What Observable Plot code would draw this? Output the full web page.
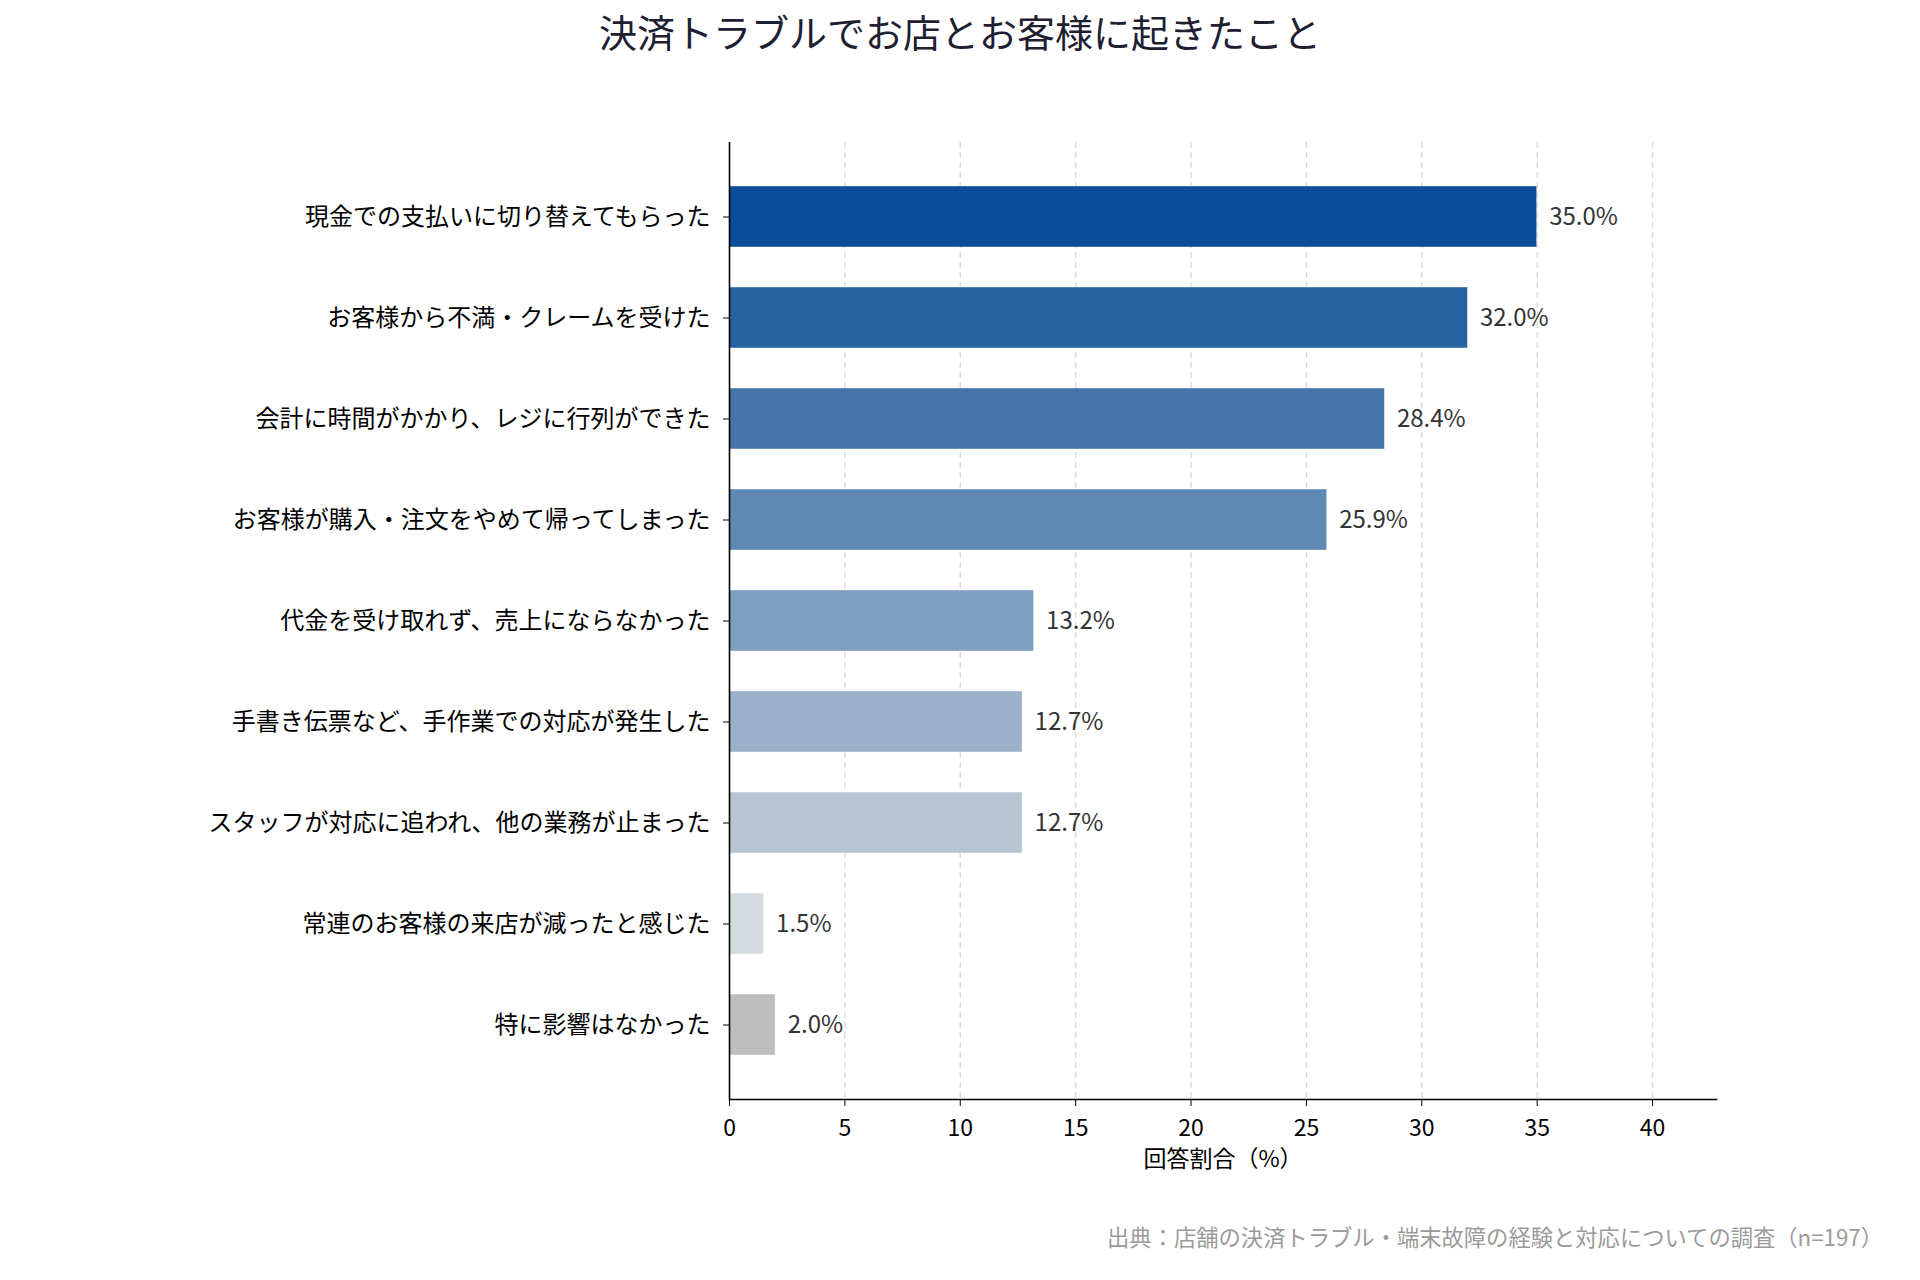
<!DOCTYPE html>
<html lang="ja">
<head>
<meta charset="utf-8">
<script src="https://cdn.jsdelivr.net/npm/d3@7"></script>
<script src="https://cdn.jsdelivr.net/npm/@observablehq/plot@0.6"></script>
<style>
  html, body { margin: 0; padding: 0; background: #fff; }
  body { width: 1920px; height: 1280px; overflow: hidden; font-family: "Noto Sans CJK JP", "Noto Sans", sans-serif; }
  #title { height: 62px; line-height: 62px; text-align: center; font-size: 38px; color: #1d2030; }
  #chart { height: 1138px; }
  #caption { margin-top: 21px; line-height: 30px; text-align: right; padding-right: 37px; font-size: 22.3px; color: #9a9a9a; }
</style>
</head>
<body>
<div id="title">決済トラブルでお店とお客様に起きたこと</div>
<div id="chart"></div>
<div id="caption">出典：店舗の決済トラブル・端末故障の経験と対応についての調査（n=197）</div>
<script>
const categories = [
  "現金での支払いに切り替えてもらった",
  "お客様から不満・クレームを受けた",
  "会計に時間がかかり、レジに行列ができた",
  "お客様が購入・注文をやめて帰ってしまった",
  "代金を受け取れず、売上にならなかった",
  "手書き伝票など、手作業での対応が発生した",
  "スタッフが対応に追われ、他の業務が止まった",
  "常連のお客様の来店が減ったと感じた",
  "特に影響はなかった"
];
const values = [35.0, 32.0, 28.4, 25.9, 13.2, 12.7, 12.7, 1.5, 2.0];
const barColors = ["#0a4d98", "#2762a0", "#4375aa", "#5f89b4", "#7f9dbf", "#9bb0c9", "#b7c5d3", "#d5dcdf", "#bdbdbd"];
const xTicks = [0, 5, 10, 15, 20, 25, 30, 35, 40];
const xLabel = "回答割合（%）";

const data = categories.map((c, i) => ({category: c, value: values[i]}));

const chart = Plot.plot({
  width: 1920,
  height: 1138,
  marginTop: 80,
  marginBottom: 101,
  marginLeft: 729,
  marginRight: 204,
  style: {fontFamily: "'Noto Sans CJK JP', 'Noto Sans', sans-serif", background: "#fff", color: "#000"},
  x: {domain: [0, 42.77]},
  y: {domain: categories, paddingInner: 0.4, paddingOuter: 0.43},
  color: {domain: categories, range: barColors},
  marks: [
    Plot.gridX(xTicks.filter(d => d > 0), {stroke: "#d9d9d9", strokeOpacity: 1, strokeWidth: 1.4, strokeDasharray: "6,4"}),
    Plot.barX(data, {x: "value", y: "category", fill: "category", stroke: "#ffffff", strokeWidth: 0.8, strokeOpacity: 0.5}),
    Plot.text(data, {x: "value", y: "category", text: d => d.value.toFixed(1) + "%", textAnchor: "start", dx: 12, fontSize: 24, fill: "#333"}),
    Plot.ruleX([0], {stroke: "#000", strokeWidth: 1.6}),
    Plot.frame({anchor: "bottom", stroke: "#000", strokeWidth: 1.6}),
    Plot.axisX({ticks: xTicks, tickSize: 7, tickPadding: 13, fontSize: 23, tickFormat: d => String(d), label: xLabel, labelAnchor: "center", labelArrow: "none", labelOffset: 67, fill: "#000", stroke: "#000"}),
    Plot.axisY({tickSize: 6, tickPadding: 13, fontSize: 24, label: null, fill: "#000", stroke: "#000"})
  ]
});
document.getElementById("chart").appendChild(chart);
</script>
</body>
</html>
